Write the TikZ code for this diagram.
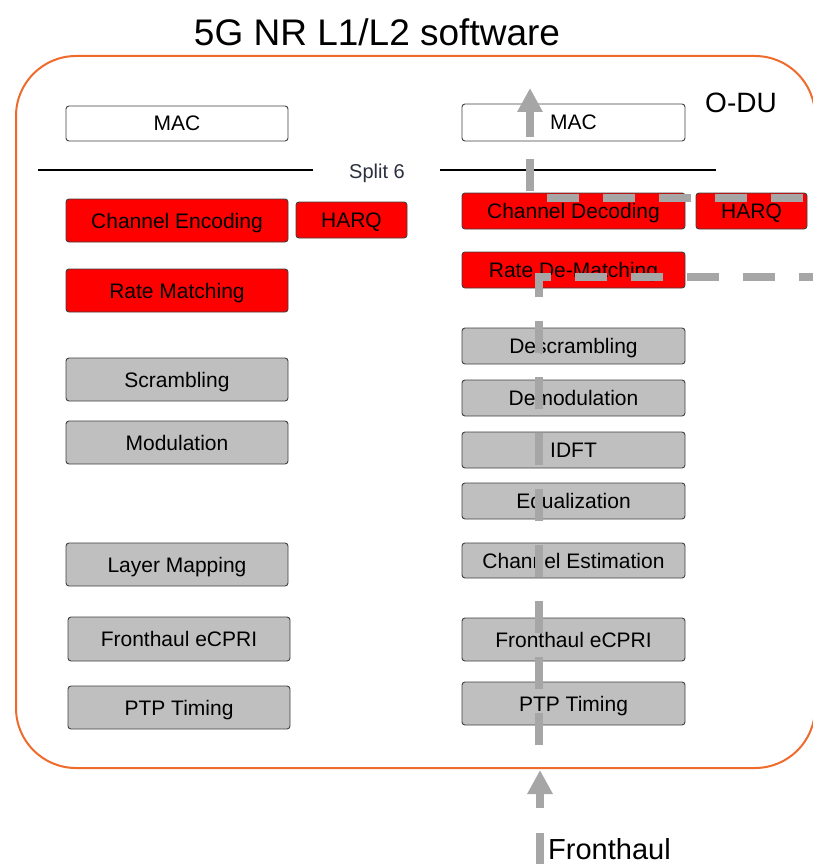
\documentclass[tikz,border=0pt]{standalone}
\usepackage{fontspec}
\setmainfont{Liberation Sans}
\usetikzlibrary{arrows.meta}
\definecolor{odu}{HTML}{EE6B2C}
\definecolor{boxline}{HTML}{404040}
\definecolor{boxgray}{HTML}{BFBFBF}
\definecolor{sigcol}{HTML}{A6A6A6}
\definecolor{splitcol}{HTML}{2B2F3E}
\begin{document}
\begin{tikzpicture}[x=1pt,y=-1pt,
  blk/.style={draw=boxline, line width=0.9pt, rounded corners=3pt, inner sep=0pt,
    font=\fontsize{21}{25}\selectfont, text=black, text height=15pt, text depth=0pt},
  whitebox/.style={blk, fill=white},
  redbox/.style={blk, fill=red},
  graybox/.style={blk, fill=boxgray},
  colw/.style={minimum width=222pt},
  sig/.style={draw=sigcol, line width=8pt},
  dsig/.style={sig, dash pattern=on 32pt off 24pt},
  splitline/.style={draw=black, line width=1.8pt}]
\clip (0,0) rectangle (813,864);
\useasboundingbox (0,0) rectangle (813,864);

% title and frame
\node[font=\fontsize{37}{44}\selectfont] (title) at (377,32) {5G NR L1/L2 software};
\draw[odu, line width=2pt, rounded corners=60pt] (16,56) rectangle (815,768);
\node[font=\fontsize{28}{33}\selectfont] (odu) at (741,103) {O-DU};

% left column
\node[whitebox, colw, minimum height=35pt] (lmac) at (177,123.5) {MAC};
\node[redbox, colw, minimum height=43pt] (lenc) at (177,220.5) {Channel Encoding};
\node[redbox, minimum width=111pt, minimum height=36pt] (lharq) at (351.5,220) {HARQ};
\node[redbox, colw, minimum height=43pt] (lrm) at (177,290.5) {Rate Matching};
\node[graybox, colw, minimum height=43pt] (lscr) at (177,379.5) {Scrambling};
\node[graybox, colw, minimum height=43pt] (lmod) at (177,442.5) {Modulation};
\node[graybox, colw, minimum height=43pt] (llm) at (177,564.5) {Layer Mapping};
\node[graybox, colw, minimum height=44pt] (lfh) at (179,639) {Fronthaul eCPRI};
\node[graybox, colw, minimum height=43pt] (lptp) at (179,707.5) {PTP Timing};

% split lines
\coordinate (sl0) at (38,170); \coordinate (sl1) at (313,170);
\coordinate (sr0) at (440,170); \coordinate (sr1) at (716,170);
\draw[splitline] (sl0) -- (sl1);
\draw[splitline] (sr0) -- (sr1);
\node[font=\fontsize{20}{24}\selectfont, text=splitcol, text height=14pt, text depth=0pt] (split) at (377,171.5) {Split 6};

% right column
\node[whitebox, minimum width=223pt, minimum height=37pt] (rmac) at (573.5,122.5) {MAC};
\node[redbox, minimum width=223pt, minimum height=36pt] (rdec) at (573.5,211) {Channel Decoding};
\node[redbox, minimum width=111pt, minimum height=36pt] (rharq) at (751.5,211) {HARQ};
\node[redbox, minimum width=223pt, minimum height=36pt] (rrdm) at (573.5,270) {Rate De-Matching};
\node[graybox, minimum width=223pt, minimum height=36pt] (rdes) at (573.5,346) {Descrambling};
\node[graybox, minimum width=223pt, minimum height=36pt] (rdem) at (573.5,398) {Demodulation};
\node[graybox, minimum width=223pt, minimum height=36pt] (ridft) at (573.5,450) {IDFT};
\node[graybox, minimum width=223pt, minimum height=36pt] (req) at (573.5,501) {Equalization};
\node[graybox, minimum width=223pt, minimum height=35pt] (rce) at (573.5,560.5) {Channel Estimation};
\node[graybox, minimum width=223pt, minimum height=43pt] (rfh) at (573.5,639.5) {Fronthaul eCPRI};
\node[graybox, minimum width=223pt, minimum height=43pt] (rptp) at (573.5,703.5) {PTP Timing};

% signal path
\coordinate (b0) at (539,745);
\coordinate (b1) at (539,277);
\coordinate (b2) at (830,277);
\draw[dsig] (b0) -- (b1) -- (b2);

\coordinate (t0) at (859,198);
\coordinate (t1) at (530,198);
\coordinate (t2) at (530,137);
\coordinate (t3) at (530,88);
\draw[dsig] (t0) -- (t1) -- (t2);
\draw[sig, -{Triangle[width=24pt,length=24pt]}] (t2) -- (t3);

\coordinate (f0) at (540,808);
\coordinate (f1) at (540,770);
\draw[sig, -{Triangle[width=24pt,length=24pt]}] (f0) -- (f1);

\coordinate (g0) at (540,833);
\coordinate (g1) at (540,866);
\draw[sig] (g0) -- (g1);
\node[anchor=west, font=\fontsize{29}{34}\selectfont, inner sep=0pt] (fh) at (548,849) {Fronthaul};
\end{tikzpicture}
\end{document}
